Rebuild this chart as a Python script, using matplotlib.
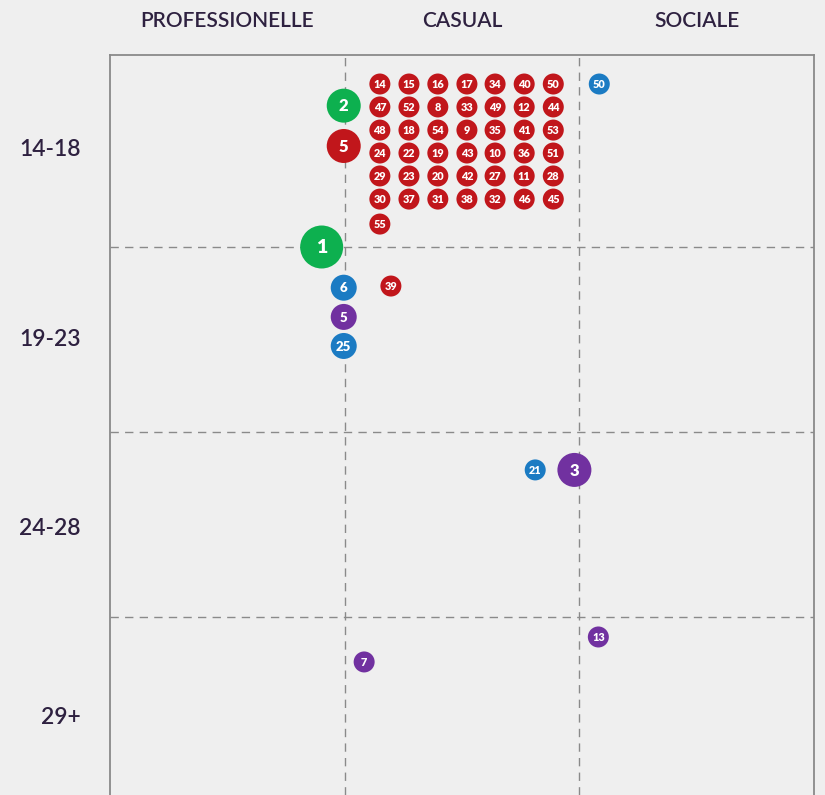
import numpy as np
import matplotlib.pyplot as plt

# column / row categories
columns = ['PROFESSIONELLE', 'CASUAL', 'SOCIALE']
rows = ['14-18', '19-23', '24-28', '29+']
row_label_pos = [0.46, 1.49, 2.51, 3.53]

colors = {
    'red': '#c1161b',
    'green': '#0db04f',
    'blue': '#1b7bc3',
    'purple': '#7131a0',
}

# single bubbles: label, x, y, colour group, size tier
pt_labels = ['1', '2', '5', '3', '50', '6', '5', '25', '39', '21', '7', '13']
pt_x = [0.902, 0.996, 0.996, 1.979, 2.085, 0.996, 0.996, 0.996, 1.197, 1.812, 1.083, 2.081]
pt_y = [1.000, 0.236, 0.454, 2.205, 0.119, 1.220, 1.378, 1.535, 1.211, 2.205, 3.243, 3.108]
pt_group = ['green', 'green', 'red', 'purple', 'blue', 'blue', 'purple', 'blue',
            'red', 'blue', 'purple', 'purple']
pt_tier = [4, 3, 3, 3, 1, 2, 2, 2, 1, 1, 1, 1]

# the packed block of red bubbles (casual, 14-18)
block_labels = [
    ['14', '15', '16', '17', '34', '40', '50'],
    ['47', '52', '8', '33', '49', '12', '44'],
    ['48', '18', '54', '9', '35', '41', '53'],
    ['24', '22', '19', '43', '10', '36', '51'],
    ['29', '23', '20', '42', '27', '11', '28'],
    ['30', '37', '31', '38', '32', '46', '45'],
    ['55'],
]
block_x = [1.150, 1.274, 1.397, 1.521, 1.641, 1.765, 1.889]
block_y = [0.119, 0.243, 0.368, 0.492, 0.616, 0.741, 0.876]

tier_radius = {1: 10.5, 2: 13, 3: 17, 4: 21.5}   # pixels
tier_font = {1: 7.8, 2: 9.5, 3: 12, 4: 14}

text_color = '#2e2140'
bg = '#efefef'
dpi = 100


def radius_to_s(r):
    return (2 * r * 72.0 / dpi) ** 2


fig = plt.figure(figsize=(8.25, 7.95), dpi=dpi, facecolor=bg)
ax = fig.add_axes([110 / 825, 0, 704 / 825, 740 / 795])
ax.set_facecolor(bg)
ax.set_xlim(0, 3)
ax.set_ylim((795 - 62) / 185, -7 / 185)

# collect all bubbles
labels, xs, ys, cols, tiers = list(pt_labels), list(pt_x), list(pt_y), list(pt_group), list(pt_tier)
for i, row in enumerate(block_labels):
    for j, lab in enumerate(row):
        labels.append(lab)
        xs.append(block_x[j])
        ys.append(block_y[i])
        cols.append('red')
        tiers.append(1)

sizes = [radius_to_s(tier_radius[t]) for t in tiers]
ax.scatter(xs, ys, s=sizes, c=[colors[c] for c in cols], linewidths=0, zorder=3)
for lab, x, y, t in zip(labels, xs, ys, tiers):
    ax.text(x, y + 0.004, lab, ha='center', va='center', color='white', fontsize=tier_font[t],
            fontweight='heavy', family='Lato', zorder=4)

# grid
ax.set_xticks([1, 2])
ax.set_yticks([1, 2, 3])
ax.grid(True, color='#8a8a8a', linestyle=(0, (6, 4.5)), linewidth=1.0)
ax.set_axisbelow(True)
ax.tick_params(which='major', length=0, labelbottom=False, labelleft=False)

# category labels as minor ticks
ax.set_xticks([0.5, 1.5, 2.5], minor=True)
ax.set_xticklabels(columns, minor=True)
ax.xaxis.tick_top()
ax.tick_params(axis='x', which='minor', length=0, pad=17, labeltop=True, labelbottom=False,
               labelsize=15, labelcolor=text_color)
ax.tick_params(axis='x', which='major', labeltop=False)
ax.set_yticks(row_label_pos, minor=True)
ax.set_yticklabels(rows, minor=True)
ax.tick_params(axis='y', which='minor', length=0, pad=21, labelsize=16.5, labelcolor=text_color)
for lab in ax.get_xticklabels(minor=True) + ax.get_yticklabels(minor=True):
    lab.set_family('Lato')
    lab.set_fontweight('semibold')

for side in ['left', 'top', 'right']:
    ax.spines[side].set_color('#8a8a8a')
    ax.spines[side].set_linewidth(1.3)
ax.spines['bottom'].set_visible(False)

fig.savefig('out.png', dpi=dpi, facecolor=bg)
